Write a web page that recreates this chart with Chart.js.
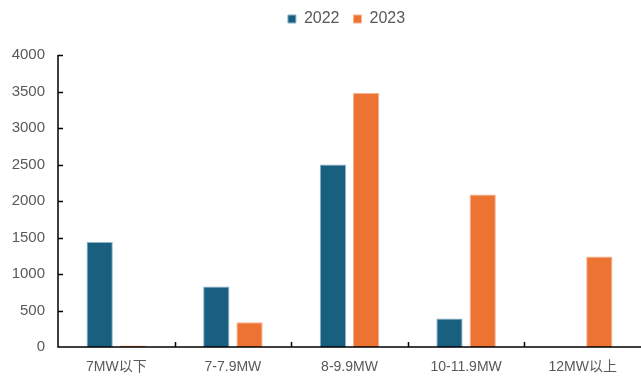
<!DOCTYPE html>
<html>
<head>
<meta charset="utf-8">
<script src="https://cdn.jsdelivr.net/npm/chart.js@4.4.1/dist/chart.umd.min.js"></script>
<style>
  html, body { margin: 0; padding: 0; background: #fff; }
  #wrap { width: 641px; height: 378px; }
</style>
</head>
<body>
<div id="wrap"><canvas id="myChart" width="641" height="378"></canvas></div>
<script>
// 分类与两年数据
const categories = ['7MW以下', '7-7.9MW', '8-9.9MW', '10-11.9MW', '12MW以上'];
const values2022 = [1440, 830, 2500, 390, 0];
const values2023 = [20, 340, 3480, 2090, 1240];
const yTicks = [0, 500, 1000, 1500, 2000, 2500, 3000, 3500, 4000];

const fontFamily = '"Liberation Sans", Arial, "Noto Sans CJK SC", sans-serif';

// 图例下方多留一些空白，并略向右上移
const legendGap = {
    id: 'legendGap',
    beforeInit(chart) {
        const fit = chart.legend.fit;
        chart.legend.fit = function () {
            fit.bind(chart.legend)();
            this.height += 15;
        };
    },
    afterLayout(chart) {
        chart.legend.left += 26;
        chart.legend.right += 26;
        chart.legend.top -= 3;
        chart.legend.bottom -= 3;
    }
};

// 坐标轴刻度线画在图内侧
const innerTicks = {
    id: 'innerTicks',
    afterDraw(chart) {
        const c = chart.ctx;
        const x = chart.scales.x;
        const y = chart.scales.y;
        c.save();
        c.strokeStyle = '#000';
        c.lineWidth = 1.5;
        c.beginPath();
        // 轴线
        c.moveTo(x.left, y.top);
        c.lineTo(x.left, y.bottom);
        c.lineTo(x.right, y.bottom);
        y.ticks.forEach((t, i) => {
            const py = Math.round(y.getPixelForTick(i)) + 0.5;
            if (t.value === 0) return;
            c.moveTo(x.left, py);
            c.lineTo(x.left + 5, py);
        });
        for (let i = 0; i < categories.length - 1; i++) {
            const px = Math.round((x.getPixelForTick(i) + x.getPixelForTick(i + 1)) / 2) + 0.5;
            c.moveTo(px, y.bottom);
            c.lineTo(px, y.bottom - 5);
        }
        c.stroke();
        c.restore();
    }
};

const ctx = document.getElementById('myChart').getContext('2d');
const chart = new Chart(ctx, {
    type: 'bar',
    data: {
        labels: categories,
        datasets: [
            {
                label: '2022',
                data: values2022,
                backgroundColor: '#185f80',
                borderColor: '#8fb4c8',
                borderWidth: 1,
                categoryPercentage: 0.57,
                barPercentage: 0.79
            },
            {
                label: '2023',
                data: values2023,
                backgroundColor: '#ec7331',
                borderColor: '#f6b48f',
                borderWidth: 1,
                categoryPercentage: 0.57,
                barPercentage: 0.79
            }
        ]
    },
    options: {
        responsive: false,
        animation: false,
        layout: { padding: { top: 0, right: 0, left: 0, bottom: 0 } },
        plugins: {
            tooltip: { enabled: false },
            legend: {
                position: 'top',
                labels: {
                    boxWidth: 8,
                    boxHeight: 8,
                    padding: 14,
                    color: '#595959',
                    font: { family: fontFamily, size: 16 }
                }
            }
        },
        scales: {
            x: {
                grid: { display: false, drawTicks: false },
                border: { display: false },
                ticks: {
                    color: '#595959',
                    padding: 12,
                    font: { family: fontFamily, size: 14 }
                },
                afterFit(scale) { scale.height = 31; }
            },
            y: {
                min: 0,
                max: 4000,
                afterBuildTicks(scale) {
                    scale.ticks = yTicks.map(v => ({ value: v }));
                },
                grid: { display: false, drawTicks: false },
                border: { display: false },
                ticks: {
                    color: '#595959',
                    padding: 13,
                    font: { family: fontFamily, size: 15 },
                    callback: v => String(v)
                },
                afterFit(scale) { scale.width = 58; }
            }
        }
    },
    plugins: [legendGap, innerTicks]
});
</script>
</body>
</html>
